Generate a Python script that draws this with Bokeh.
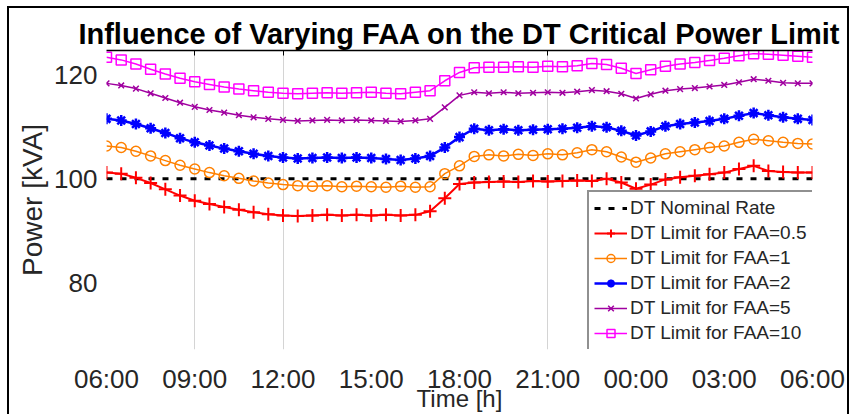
from bokeh.plotting import figure
from bokeh.models import FixedTicker, LinearAxis, Range1d
from bokeh.embed import file_html
from bokeh.resources import INLINE

# time in hours after 06:00, 30-minute steps
hours = [0, 0.5, 1, 1.5, 2, 2.5, 3, 3.5, 4, 4.5, 5, 5.5, 6, 6.5, 7, 7.5, 8, 8.5,
         9, 9.5, 10, 10.5, 11, 11.5, 12, 12.5, 13, 13.5, 14, 14.5, 15, 15.5, 16,
         16.5, 17, 17.5, 18, 18.5, 19, 19.5, 20, 20.5, 21, 21.5, 22, 22.5, 23,
         23.5, 24]

tick_hours = [0, 3, 6, 9, 12, 15, 18, 21, 24]
tick_labels = ["06:00", "09:00", "12:00", "15:00", "18:00", "21:00", "00:00", "03:00", "06:00"]
grid_hours = [3, 6, 15]
y_ticks = [80, 100, 120]

nominal_rate = 100

faa_05 = [101.2, 101.0, 100.2, 99.2, 98.0, 96.8, 95.8, 95.2, 94.6, 94.1, 93.6, 93.2,
          93.0, 92.9, 93.0, 93.1, 93.0, 93.1, 93.0, 93.1, 93.0, 93.1, 93.8, 96.3,
          99.0, 99.3, 99.4, 99.5, 99.4, 99.6, 99.5, 99.6, 99.7, 99.6, 100.0, 99.3,
          98.1, 98.9, 99.9, 100.3, 100.6, 100.9, 101.2, 101.9, 102.5, 101.5, 101.3,
          101.2, 101.2]
faa_1 = [106.3, 106.0, 105.3, 104.4, 103.5, 102.6, 101.9, 101.2, 100.6, 100.1, 99.6,
         99.2, 98.9, 98.7, 98.6, 98.7, 98.5, 98.6, 98.5, 98.4, 98.6, 98.4, 98.5, 101.0,
         102.5, 104.3, 104.6, 104.4, 104.7, 104.5, 104.8, 104.6, 105.0, 105.6, 105.2,
         104.2, 103.2, 104.0, 104.8, 105.2, 105.6, 106.0, 106.3, 107.0, 107.6, 107.3,
         107.0, 106.8, 106.7]
faa_2 = [111.5, 111.2, 110.5, 109.7, 108.8, 107.8, 107.0, 106.4, 105.8, 105.3, 104.8,
         104.4, 104.1, 103.9, 104.0, 104.1, 104.0, 104.1, 104.0, 103.8, 103.6, 103.9,
         104.4, 106.0, 108.0, 109.6, 109.3, 109.5, 109.3, 109.4, 109.5, 109.6, 109.8,
         110.1, 109.9, 109.2, 108.3, 109.1, 110.1, 110.5, 110.8, 111.1, 111.5, 112.1,
         112.6, 112.2, 111.8, 111.5, 111.3]
faa_5 = [118.3, 117.9, 117.3, 116.4, 115.5, 114.6, 113.8, 113.2, 112.7, 112.2, 111.8,
         111.5, 111.3, 111.1, 111.2, 111.3, 111.2, 111.3, 111.2, 111.1, 111.0, 111.2,
         111.5, 113.7, 116.0, 116.6, 116.4, 116.6, 116.4, 116.5, 116.6, 116.5, 116.7,
         117.0, 116.8, 116.3, 115.4, 116.2, 116.9, 117.2, 117.4, 117.7, 118.0, 118.5,
         119.1, 118.8, 118.4, 118.3, 118.3]
faa_10 = [123.3, 122.8, 122.0, 121.0, 120.1, 119.3, 118.6, 118.1, 117.6, 117.2, 116.9,
          116.6, 116.4, 116.3, 116.4, 116.5, 116.4, 116.5, 116.6, 116.4, 116.3, 116.6,
          116.9, 118.8, 120.4, 121.3, 121.4, 121.4, 121.5, 121.4, 121.6, 121.5, 121.7,
          122.1, 121.9, 121.2, 120.2, 120.9, 121.6, 122.0, 122.3, 122.7, 123.1, 123.6,
          124.0, 123.9, 123.7, 123.5, 123.3]

FONT = "Liberation Sans"
TXT = "#262626"

p = figure(width=838, height=406, output_backend="svg", toolbar_location=None,
           x_range=Range1d(0, 24), y_range=Range1d(67.3, 124.6),
           min_border_left=97, min_border_right=35, min_border_top=42,
           min_border_bottom=10,
           title="Influence of Varying FAA on the DT Critical Power Limit",
           styles={"outline": "2px solid black"})
p.margin = (8, 0, 0, 9)
p.title.text_font = FONT
p.title.text_font_size = "29px"
p.title.text_font_style = "bold"
p.title.text_color = "black"
p.title.align = "center"
p.title.standoff = 2
p.outline_line_color = None
p.background_fill_color = "white"
p.border_fill_color = "white"

xa = p.below[0]
xa.ticker = FixedTicker(ticks=tick_hours)
xa.major_label_overrides = {h: lab for h, lab in zip(tick_hours, tick_labels)}
xa.major_label_text_font = FONT
xa.major_label_text_font_size = "26px"
xa.major_label_text_color = TXT
xa.major_label_standoff = 8
xa.major_tick_line_color = None
xa.minor_tick_line_color = None
xa.axis_line_color = None
xa.axis_label = "Time [h]"
xa.axis_label_text_font = FONT
xa.axis_label_text_font_size = "24px"
xa.axis_label_text_font_style = "normal"
xa.axis_label_text_color = TXT
xa.axis_label_standoff = -12

ya = p.left[0]
ya.ticker = FixedTicker(ticks=y_ticks)
ya.major_label_text_font = FONT
ya.major_label_text_font_size = "26px"
ya.major_label_text_color = TXT
ya.major_label_standoff = 3
ya.major_tick_line_color = None
ya.minor_tick_line_color = None
ya.axis_line_color = None
ya.axis_label = "Power [kVA]"
ya.axis_label_text_font = FONT
ya.axis_label_text_font_size = "28px"
ya.axis_label_text_font_style = "normal"
ya.axis_label_text_color = TXT
ya.axis_label_standoff = 3

p.xgrid.ticker = FixedTicker(ticks=grid_hours)
p.xgrid.grid_line_color = "#d4d4d4"
p.xgrid.grid_line_width = 1
p.ygrid.grid_line_color = None

top_axis = LinearAxis(ticker=FixedTicker(ticks=grid_hours),
                      major_label_text_font_size="1px", major_label_text_color=None,
                      major_label_standoff=0, major_tick_in=5, major_tick_out=0,
                      minor_tick_line_color=None, axis_line_color="black",
                      axis_line_width=1.5, major_tick_line_color="black")
p.add_layout(top_axis, "above")

# nominal rating
p.line([hours[0], hours[-1]], [nominal_rate, nominal_rate], line_color="black",
       line_width=3, line_dash="6 8", legend_label="DT Nominal Rate")

series = [
    (faa_05, "#FF0000", "cross", 13, 2.0, "DT Limit for FAA=0.5", 2.0),
    (faa_1, "#FF8000", "circle", 10, 1.5, "DT Limit for FAA=1", 1.5),
    (faa_2, "#0000FF", "asterisk", 11, 2.5, "DT Limit for FAA=2", 2.5),
    (faa_5, "#A000A0", "x", 8, 1.5, "DT Limit for FAA=5", 1.5),
    (faa_10, "#FF00FF", "square", 10, 1.5, "DT Limit for FAA=10", 1.5),
]
for vals, col, mk, sz, mlw, lab, lw in series:
    p.line(hours, vals, line_color=col, line_width=lw, legend_label=lab)
    p.scatter(hours, vals, marker=mk, size=sz, line_color=col, line_width=mlw,
              fill_color=col, fill_alpha=0, legend_label=lab)

lg = p.legend[0]
lg.location = (481, -2)
lg.label_text_font = FONT
lg.label_text_font_size = "19px"
lg.label_text_color = TXT
lg.glyph_width = 33
lg.glyph_height = 20
lg.label_height = 20
lg.spacing = 3
lg.padding = 5
lg.margin = 0
lg.label_standoff = 3
lg.border_line_color = "#222222"
lg.border_line_width = 2
lg.background_fill_color = "white"
lg.background_fill_alpha = 1

open("out.html", "w").write(file_html(p, INLINE))
